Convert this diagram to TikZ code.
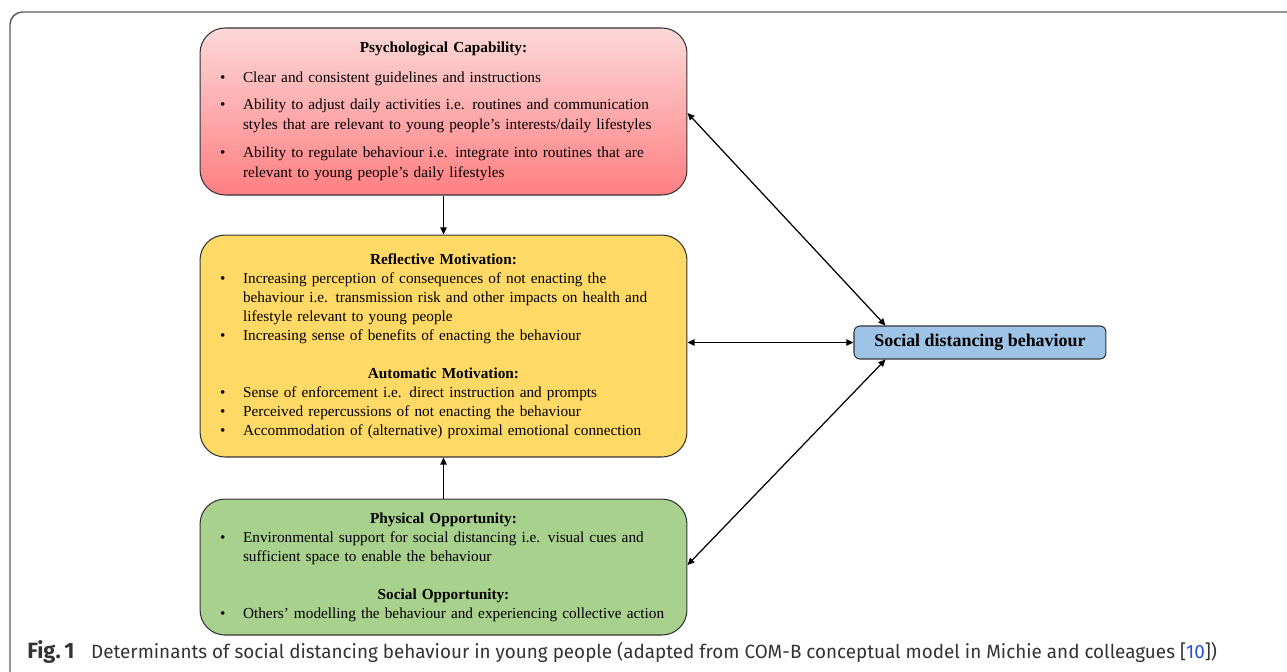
\documentclass[tikz,border=0pt]{standalone}
\usepackage{fontspec}
\setmainfont{Liberation Serif}
\newfontfamily\capfont[FakeStretch=0.985]{Fira Sans}
\usepackage{tikz}
\usetikzlibrary{positioning,arrows.meta}
\definecolor{capred}{HTML}{FF7F82}
\definecolor{capredlight}{HTML}{FCD8D8}
\definecolor{motyellow}{HTML}{FFD966}
\definecolor{oppgreen}{HTML}{A9D18E}
\definecolor{behblue}{HTML}{9DC3E6}
\definecolor{framegray}{HTML}{5A5A5A}
\definecolor{captext}{HTML}{333333}
\definecolor{refblue}{HTML}{2450D8}
\tikzstyle{arrow} = [line width=0.7pt, ->, >={Triangle[length=4pt,width=3.6pt]}]
\tikzstyle{twoway} = [line width=0.7pt, <->, >={Triangle[length=4pt,width=3.6pt]}]
% one bullet point, with the text hanging after the bullet
\newcommand{\bpoint}[1]{\par\noindent\hangindent=0.86cm\hangafter=1\makebox[0.86cm][l]{\hspace{0.4cm}\textbullet}#1\par}

\begin{document}
\begin{tikzpicture}[x=0.02cm, y=-0.02cm,
			comb/.style={
					rectangle,
					draw=black!80,
					line width=0.6pt,
					rounded corners=0.5cm,
					minimum width=9.74cm,
					text width=9.74cm,
					inner xsep=0pt,
					align=left,
				}
		]
		\useasboundingbox (0,0) rectangle (1287,672);
		\clip (0,0) rectangle (1287,672);

		% outer frame of the figure
		\draw[framegray, line width=0.8pt, rounded corners=0.25cm] (10,12) rectangle (1330,720);

		% Psychological capability
		\node[comb, minimum height=3.34cm, top color=capredlight, bottom color=capred,
			font={\fontsize{8.7pt}{11.4pt}\selectfont}] (psych) at (443.5,111.5) {
			\centerline{\textbf{Psychological Capability:}}\par\vspace{5.5pt}
			\bpoint{Clear and consistent guidelines and instructions}\vspace{4.5pt}
			\bpoint{Ability to adjust daily activities i.e. routines and communication\newline
				styles that are relevant to young people’s interests/daily lifestyles}\vspace{4.5pt}
			\bpoint{Ability to regulate behaviour i.e. integrate into routines that are\newline
				relevant to young people’s daily lifestyles}
		};

		% Reflective and automatic motivation
		\node[comb, below=0.78cm of psych, minimum height=4.44cm, fill=motyellow,
			font={\fontsize{8.7pt}{10.8pt}\selectfont}] (motiv) {
			\centerline{\textbf{Reflective Motivation:}}
			\bpoint{Increasing perception of consequences of not enacting the\newline
				behaviour i.e. transmission risk and other impacts on health and\newline
				lifestyle relevant to young people}
			\bpoint{Increasing sense of benefits of enacting the behaviour}\vspace{10.8pt}
			\centerline{\textbf{Automatic Motivation:}}
			\bpoint{Sense of enforcement i.e. direct instruction and prompts}
			\bpoint{Perceived repercussions of not enacting the behaviour}
			\bpoint{Accommodation of (alternative) proximal emotional connection}
		};

		% Physical and social opportunity
		\node[comb, below=0.82cm of motiv, minimum height=2.72cm, fill=oppgreen,
			font={\fontsize{8.7pt}{10.8pt}\selectfont}] (opport) {
			\centerline{\textbf{Physical Opportunity:}}
			\bpoint{Environmental support for social distancing i.e. visual cues and\newline
				sufficient space to enable the behaviour}\vspace{10.8pt}
			\centerline{\textbf{Social Opportunity:}}
			\bpoint{Others’ modelling the behaviour and experiencing collective action}
		};

		% Behaviour
		\node[rectangle, draw=black!80, line width=0.6pt, rounded corners=0.12cm, fill=behblue,
			minimum width=5.04cm, minimum height=0.66cm, font={\fontsize{10.2pt}{12pt}\selectfont\bfseries},
			right=3.32cm of motiv, yshift=0.07cm] (social) {Social distancing behaviour};

		% Connections
		\draw[arrow] (psych.south) -- (motiv.north);
		\draw[arrow] (opport.north) -- (motiv.south);
		\draw[twoway] (motiv.east |- social.west) -- (social.west);
		\draw[twoway] ([yshift=-0.03cm]psych.east) -- ([xshift=0.64cm]social.north west);
		\draw[twoway] ([yshift=0.04cm]opport.east) -- ([xshift=0.64cm]social.south west);

		% Caption
		\node[anchor=west, inner sep=0pt, text=captext, font={\capfont\fontsize{10.9pt}{13pt}\selectfont}] (caption) at (27,652)
		{{\fontsize{12.6pt}{13pt}\selectfont\bfseries Fig.\,1}\hspace{9.5pt}Determinants of social distancing behaviour in young people (adapted from COM-B conceptual model in Michie and colleagues [{\color{refblue}10}])};
	\end{tikzpicture}
\end{document}
